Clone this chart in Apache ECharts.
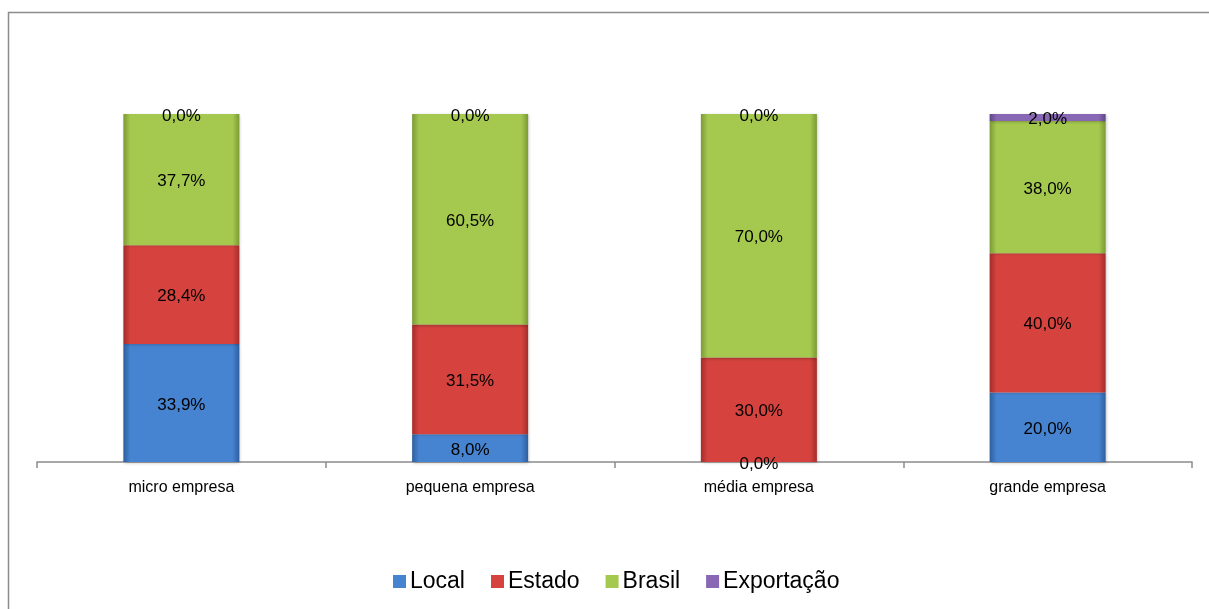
<!DOCTYPE html>
<html>
<head>
<meta charset="utf-8">
<script src="https://cdn.jsdelivr.net/npm/echarts@6/dist/echarts.min.js"></script>
<style>
  html, body { margin: 0; padding: 0; background: #fff; }
  #chart { width: 1209px; height: 609px; }
</style>
</head>
<body>
<div id="chart"></div>
<script>
// Company size groups
const categories = ['micro empresa', 'pequena empresa', 'média empresa', 'grande empresa'];

// Share of sales by destination market (%)
const local = [33.9, 8.0, 0.0, 20.0];
const estado = [28.4, 31.5, 30.0, 40.0];
const brasil = [37.7, 60.5, 70.0, 38.0];
const exportacao = [0.0, 0.0, 0.0, 2.0];

const seriesNames = ['Local', 'Estado', 'Brasil', 'Exportação'];
const seriesData = [local, estado, brasil, exportacao];
const baseColors = ['#4683d0', '#d6433f', '#a5c94f', '#8867b5'];
const edgeColors = ['#2d5f9e', '#a52d2a', '#7c9a35', '#5f4585'];

function bevel(i) {
  return {
    type: 'linear', x: 0, y: 0, x2: 1, y2: 0,
    colorStops: [
      { offset: 0, color: edgeColors[i] },
      { offset: 0.06, color: baseColors[i] },
      { offset: 0.94, color: baseColors[i] },
      { offset: 1, color: edgeColors[i] }
    ]
  };
}

const fmt = v => v.toFixed(1).replace('.', ',') + '%';

const chart = echarts.init(document.getElementById('chart'), null, { renderer: 'canvas' });

chart.setOption({
  animation: false,
  backgroundColor: '#ffffff',
  textStyle: { fontFamily: 'Liberation Sans, Arial, sans-serif' },
  graphic: [{
    type: 'rect',
    shape: { x: 8.5, y: 12.5, width: 1220, height: 620 },
    style: { fill: 'none', stroke: '#8c8c8c', lineWidth: 1.5 },
    silent: true
  }],
  grid: { left: 37, right: 17, top: 114, bottom: 147 },
  legend: {
    bottom: 11,
    left: 388,
    itemWidth: 13,
    itemHeight: 13,
    itemGap: 26,
    icon: 'rect',
    textStyle: { fontSize: 23, color: '#000', padding: [0, 0, 0, -1] },
    data: seriesNames.map((n, i) => ({ name: n, itemStyle: { color: baseColors[i] } }))
  },
  xAxis: {
    type: 'category',
    data: categories,
    axisLine: { lineStyle: { color: '#8c8c8c', width: 1.5 } },
    axisTick: { show: true, length: 6, lineStyle: { color: '#8c8c8c', width: 1.5 } },
    axisLabel: { color: '#000', fontSize: 16, margin: 18 }
  },
  yAxis: {
    type: 'value',
    min: 0,
    max: 100,
    show: false,
    splitLine: { show: false }
  },
  series: seriesNames.map((name, i) => ({
    name: name,
    type: 'bar',
    stack: 'total',
    barWidth: 116,
    data: seriesData[i],
    itemStyle: {
      color: bevel(i),
      shadowBlur: 3,
      shadowColor: 'rgba(0,0,0,0.25)',
      shadowOffsetX: 1,
      shadowOffsetY: 1
    },
    label: {
      show: true,
      position: 'inside',
      color: '#000',
      fontSize: 17,
      offset: [0, 2],
      formatter: p => fmt(p.value)
    }
  }))
});
</script>
</body>
</html>
